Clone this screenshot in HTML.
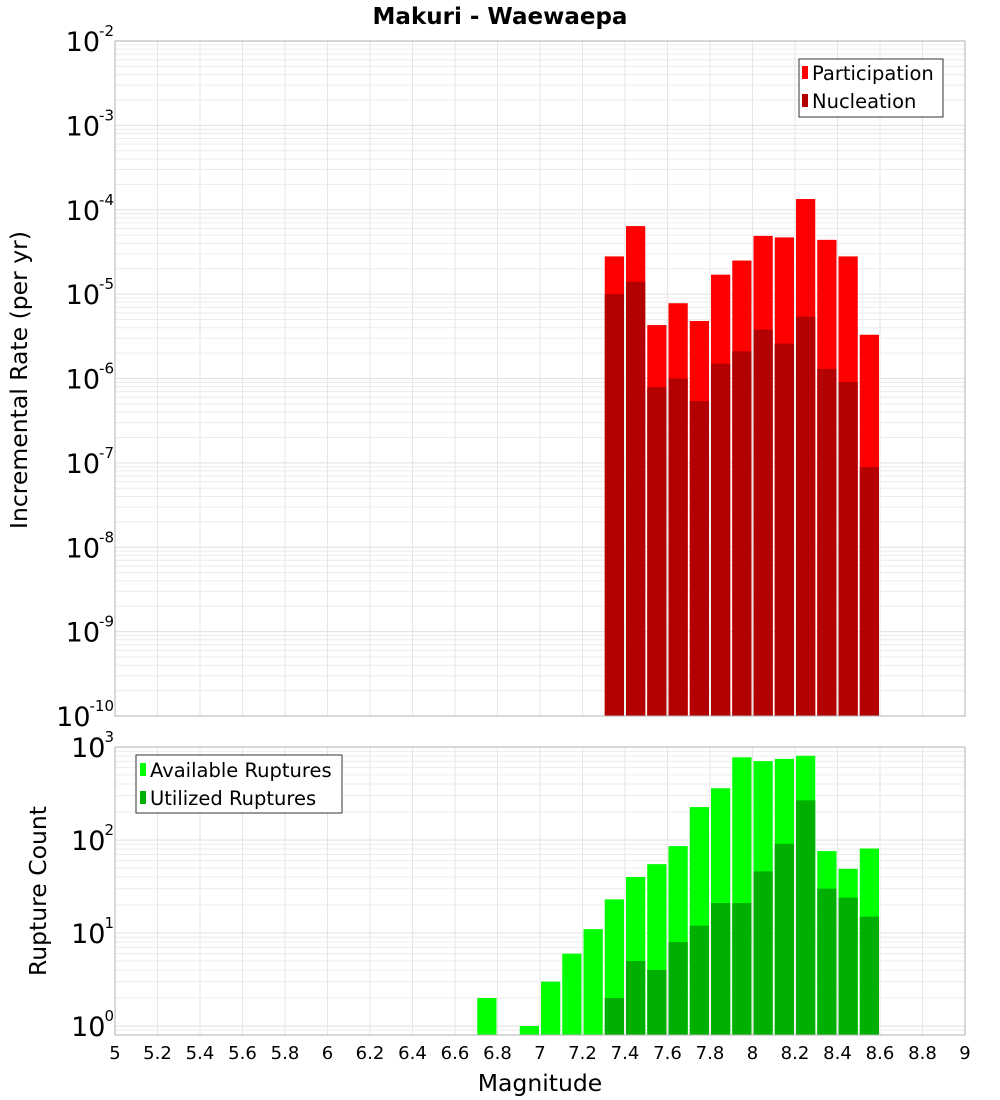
<!DOCTYPE html>
<html><head><meta charset="utf-8">
<style>
html,body{margin:0;padding:0;background:#fff;}
svg{display:block;font-family:"DejaVu Sans","Liberation Sans",sans-serif;}
</style></head>
<body>
<svg id="chart" width="1000" height="1100" xmlns="http://www.w3.org/2000/svg"></svg>
<script>
const topBins = [7.35,7.45,7.55,7.65,7.75,7.85,7.95,8.05,8.15,8.25,8.35,8.45,8.55];
const participation = [2.8e-5,6.4e-5,4.3e-6,7.8e-6,4.8e-6,1.7e-5,2.5e-5,4.9e-5,4.7e-5,1.34e-4,4.4e-5,2.8e-5,3.3e-6];
const nucleation = [1.0e-5,1.4e-5,7.9e-7,1.0e-6,5.4e-7,1.5e-6,2.1e-6,3.8e-6,2.6e-6,5.4e-6,1.3e-6,9.1e-7,8.9e-8];
const availBins = [6.75,6.95,7.05,7.15,7.25,7.35,7.45,7.55,7.65,7.75,7.85,7.95,8.05,8.15,8.25,8.35,8.45,8.55];
const available = [2,1,3,6,11,23,40,55,86,226,360,775,705,745,805,76,49,81];
const utilBins = [7.35,7.45,7.55,7.65,7.75,7.85,7.95,8.05,8.15,8.25,8.35,8.45,8.55];
const utilized = [2,5,4,8,12,21,21,46,91,267,30,24,15];
const xTicks = ["5","5.2","5.4","5.6","5.8","6","6.2","6.4","6.6","6.8","7","7.2","7.4","7.6","7.8","8","8.2","8.4","8.6","8.8","9"];
const topExps = [-2,-3,-4,-5,-6,-7,-8,-9,-10];
const botExps = [3,2,1,0];

const svg = document.getElementById('chart');
const NS = 'http://www.w3.org/2000/svg';
function el(tag, attrs, parent){const e=document.createElementNS(NS,tag);for(const k in attrs)e.setAttribute(k,attrs[k]);(parent||svg).appendChild(e);return e;}

const L=115,R=965;
const xS = v => L + (v-5)/(9-5)*(R-L);
const T1=41,B1=716; const yTop = v => T1 + (-2 - Math.log10(v))/8*(B1-T1);
const T2=747,B2=1035; const dec2=93; const yBot = v => 1026 - Math.log10(v)*dec2;

function grid(top,bottom,yfun,lo,hi){
  const g=el('g',{});
   
  for(let e=lo;e<hi;e++){for(let m=1;m<10;m++){const v=m*Math.pow(10,e);const y=yfun(v);if(y<top||y>bottom)continue;
    el('line',{x1:L,x2:R,y1:y,y2:y,stroke:m==1?'#e0e0e0':'#ececec','stroke-width':1},g);}}
  for(let i=0;i<xTicks.length;i++){const x=xS(+xTicks[i]);el('line',{x1:x,x2:x,y1:top,y2:bottom,stroke:'#e6e6e6','stroke-width':1},g);}
}
grid(T1,B1,yTop,-10,-2);
grid(T2,B2,yBot,-1,3);

const bw=(R-L)/40;
function bars(bins,vals,yfun,base,color,name){
  const g=el('g',{});
   
  bins.forEach((b,i)=>{const x0=xS(b)-bw/2+1, y=yfun(vals[i]);
    const r=el('rect',{x:x0,y:y,width:bw-2,height:base-y,fill:color},g);
    
    });
}
bars(topBins,participation,yTop,B1,'#ff0000','participation');
bars(topBins,nucleation,yTop,B1,'#b30000','nucleation');
bars(availBins,available,yBot,B2,'#00ff00','available');
bars(utilBins,utilized,yBot,B2,'#00b000','utilized');

el('rect',{x:L,y:T1,width:R-L,height:B1-T1,fill:'none',stroke:'#b0b0b0'});
el('rect',{x:L,y:T2,width:R-L,height:B2-T2,fill:'none',stroke:'#b0b0b0'});

function ylab(e,y){
  const t=el('text',{x:114,y:y+10,'text-anchor':'end','font-size':27,fill:'#000'});
   
  t.textContent='10';
  const s=el('tspan',{dy:-15,dx:-1,'font-size':15}); s.textContent=String(e); t.appendChild(s);
}
topExps.forEach(e=>ylab(e,yTop(Math.pow(10,e))));
botExps.forEach(e=>ylab(e,yBot(Math.pow(10,e))));
xTicks.forEach(l=>{const t=el('text',{x:xS(+l),y:1059,'text-anchor':'middle','font-size':18,fill:'#000'});
    t.textContent=l;});
</script>
<svg style="position:absolute;left:0;top:0" width="1000" height="1100" xmlns="http://www.w3.org/2000/svg" font-family="DejaVu Sans, Liberation Sans, sans-serif">
<text x="500" y="24" text-anchor="middle" font-size="23" font-weight="bold">Makuri - Waewaepa</text>
<text transform="translate(27,380) rotate(-90)" text-anchor="middle" font-size="23.5">Incremental Rate (per yr)</text>
<text transform="translate(46,891) rotate(-90)" text-anchor="middle" font-size="23.5">Rupture Count</text>
<text x="540" y="1091" text-anchor="middle" font-size="23.5">Magnitude</text>
<g>
<rect x="799" y="59" width="144" height="58" fill="#fff" stroke="#333"/>
<rect x="802" y="66" width="6" height="13" fill="#ff0000"/>
<text x="812" y="80" font-size="19.5">Participation</text>
<rect x="802" y="94" width="6" height="13" fill="#b30000"/>
<text x="812" y="108" font-size="19.5">Nucleation</text>
</g>
<g>
<rect x="136" y="755" width="206" height="58" fill="#fff" stroke="#333"/>
<rect x="140" y="763" width="6" height="13" fill="#00ff00"/>
<text x="150" y="777" font-size="19.5">Available Ruptures</text>
<rect x="140" y="791" width="6" height="13" fill="#00b000"/>
<text x="150" y="805" font-size="19.5">Utilized Ruptures</text>
</g>
</svg>
</body></html>
